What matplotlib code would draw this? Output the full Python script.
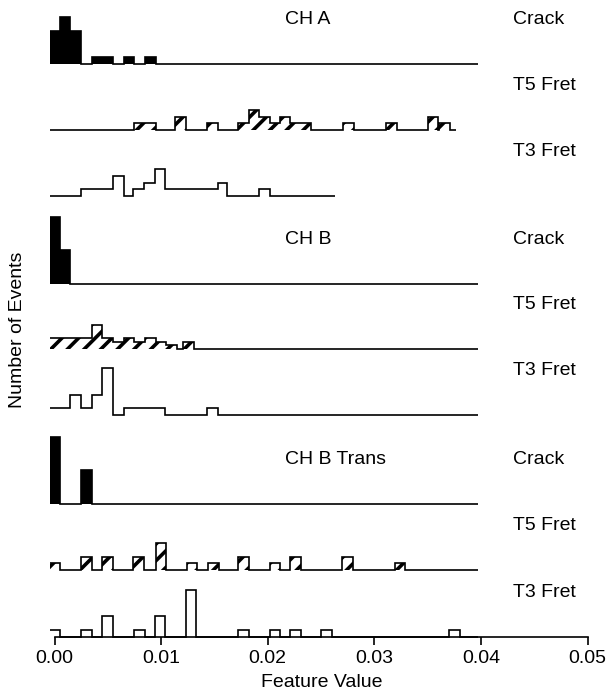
import numpy as np
import matplotlib
matplotlib.use("Agg")
import matplotlib.pyplot as plt

plt.rcParams['font.family'] = ['Liberation Sans', 'DejaVu Sans']
plt.rcParams['hatch.linewidth'] = 2.6

W, H = 606, 697
BIN = 0.001

# --- CH A ---
cha_crack_x = [0.000, 0.001, 0.002, 0.004, 0.005, 0.007, 0.009]
cha_crack_n = [10, 14, 10, 2, 2, 2, 2]
cha_t5_x = [0.0080, 0.0090, 0.0118, 0.0148, 0.0177, 0.0187, 0.0197, 0.0207,
            0.0216, 0.0226, 0.0236, 0.0276, 0.0316, 0.0355, 0.0366]
cha_t5_n = [2, 2, 4, 2, 2, 6, 4, 2, 4, 2, 2, 2, 2, 4, 2]
cha_t3_x = [0.003, 0.004, 0.005, 0.0060, 0.0079, 0.0089, 0.0099, 0.0109,
            0.0119, 0.0129, 0.0139, 0.0148, 0.0157, 0.0197]
cha_t3_n = [2, 2, 2, 6, 2, 4, 8, 2, 2, 2, 2, 2, 4, 2]

# --- CH B ---
chb_crack_x = [0.000, 0.001]
chb_crack_n = [20, 10]
chb_t5_x = [0.000, 0.001, 0.002, 0.003, 0.004, 0.005, 0.006, 0.007, 0.008,
            0.009, 0.010, 0.011, 0.0126]
chb_t5_n = [3, 3, 3, 3, 7, 3, 2, 3, 2, 3, 2, 1, 2]
chb_t3_x = [0.000, 0.001, 0.002, 0.003, 0.004, 0.005, 0.007, 0.008, 0.009,
            0.0099, 0.0148]
chb_t3_n = [2, 2, 6, 2, 6, 14, 2, 2, 2, 2, 2]

# --- CH B Trans ---
cht_crack_x = [0.000, 0.003]
cht_crack_n = [20, 10]
cht_t5_x = [0.000, 0.003, 0.005, 0.0079, 0.0100, 0.0129, 0.0149, 0.0177,
            0.0207, 0.0226, 0.0275, 0.0324]
cht_t5_n = [2, 4, 4, 4, 8, 2, 2, 4, 2, 4, 4, 2]
cht_t3_x = [0.000, 0.003, 0.005, 0.008, 0.0099, 0.0128, 0.0177, 0.0207,
            0.0226, 0.0255, 0.0375]
cht_t3_n = [2, 2, 6, 2, 6, 14, 2, 2, 2, 2, 2]

group_labels = ["CH A", "CH B", "CH B Trans"]
class_labels = ["Crack", "T5 Fret", "T3 Fret"]
x_ticks = [0.00, 0.01, 0.02, 0.03, 0.04, 0.05]
x_ticklabels = ["0.00", "0.01", "0.02", "0.03", "0.04", "0.05"]

panels = [
    (cha_crack_x, cha_crack_n, "Crack", 0.0397),
    (cha_t5_x, cha_t5_n, "T5 Fret", 0.0377),
    (cha_t3_x, cha_t3_n, "T3 Fret", 0.0263),
    (chb_crack_x, chb_crack_n, "Crack", 0.0397),
    (chb_t5_x, chb_t5_n, "T5 Fret", 0.0397),
    (chb_t3_x, chb_t3_n, "T3 Fret", 0.0397),
    (cht_crack_x, cht_crack_n, "Crack", 0.0397),
    (cht_t5_x, cht_t5_n, "T5 Fret", 0.0397),
    (cht_t3_x, cht_t3_n, "T3 Fret", 0.0397),
]

# layout in pixels
baselines = [64, 130, 196, 283.5, 348.5, 415, 503.5, 570, 636.5]
unit = 3.35                      # pixels per event
x0_px, px_per = 54.5, 10660.0    # x=0 position and pixels per unit x
xlim = (-0.0004, 0.0505)
YLO, YHI = -1.0, 21.0
XSTART = -0.0005


def to_stairs(centers, counts, stop):
    edges = [XSTART]
    vals = []
    for c, n in sorted(zip(centers, counts)):
        lo, hi = c - BIN / 2, c + BIN / 2
        if lo > edges[-1] + 1e-7:
            vals.append(0)
            edges.append(lo)
        vals.append(n)
        edges.append(hi)
    if stop > edges[-1]:
        vals.append(0)
        edges.append(stop)
    return np.array(vals, float), np.array(edges)


fig = plt.figure(figsize=(W / 100, H / 100), dpi=100)
left_px = x0_px + xlim[0] * px_per
width_px = (xlim[1] - xlim[0]) * px_per

axes = []
for i, (xs, ns, kind, stop) in enumerate(panels):
    b = baselines[i]
    bottom_px = b - YLO * unit
    ax = fig.add_axes([left_px / W, (H - bottom_px) / H,
                       width_px / W, (YHI - YLO) * unit / H])
    ax.set_xlim(*xlim)
    ax.set_ylim(YLO, YHI)
    ax.patch.set_alpha(0)
    for s in ax.spines.values():
        s.set_visible(False)
    ax.set_xticks([])
    ax.set_yticks([])

    vals, edges = to_stairs(xs, ns, stop)
    if kind == "Crack":
        ax.stairs(vals, edges, baseline=0, fill=True, color="black", lw=0)
        ax.stairs(vals, edges, baseline=0, fill=False, color="black", lw=1.2)
    elif kind == "T5 Fret":
        ax.stairs(vals, edges, baseline=0, fill=True, facecolor="white",
                  edgecolor="black", hatch="//", lw=0)
        ax.stairs(vals, edges, baseline=0, fill=False, color="black", lw=1.2)
    else:
        ax.stairs(vals, edges, baseline=0, fill=False, color="black", lw=1.2)

    # class label at the right, group label in the middle for crack rows
    ty = 1 - (b - 44) / H
    fig.text(513 / W, ty, kind, fontsize=14, va="center", ha="left")
    if kind == "Crack":
        fig.text(285 / W, ty, group_labels[i // 3], fontsize=14,
                 va="center", ha="left")
    axes.append(ax)

# bottom axis on the last panel
ax = axes[-1]
ax.spines["bottom"].set_visible(True)
ax.spines["bottom"].set_position(("data", 0))
ax.spines["bottom"].set_bounds(0, 0.05)
ax.spines["bottom"].set_linewidth(1.2)
ax.set_xticks(x_ticks)
ax.set_xticklabels(x_ticklabels, fontsize=14)
ax.tick_params(axis="x", direction="out", length=6, width=1.2, pad=4)
ax.set_xlabel("Feature Value", fontsize=14, labelpad=5)

fig.text(18 / W, 1 - 330 / H, "Number of Events", rotation=90,
         fontsize=14, va="center", ha="center")

fig.savefig("out.png", dpi=100)
